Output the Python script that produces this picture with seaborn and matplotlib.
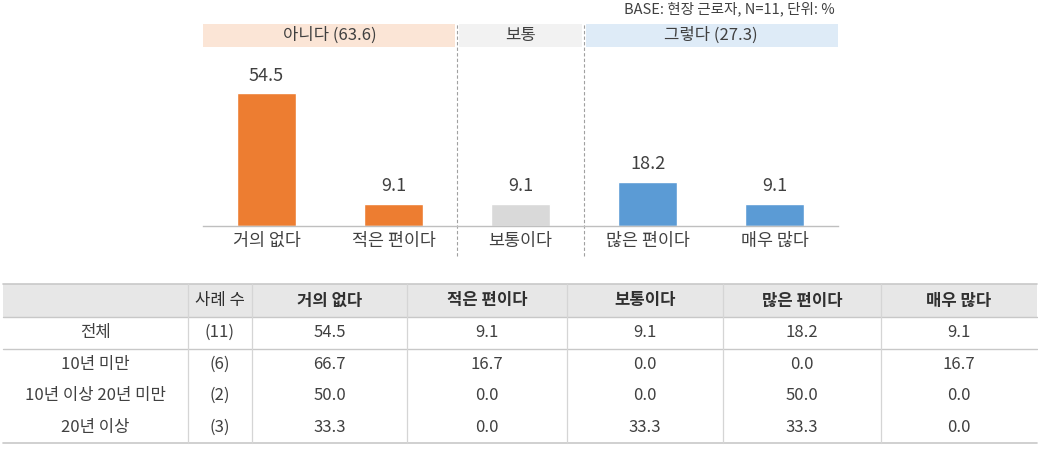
import matplotlib
matplotlib.use("Agg")
import matplotlib.pyplot as plt
import seaborn as sns
import pandas as pd
from matplotlib.patches import Rectangle

# ---------------- data ----------------
categories = ["거의 없다", "적은 편이다", "보통이다", "많은 편이다", "매우 많다"]
values = [54.5, 9.1, 9.1, 18.2, 9.1]
bar_colors = ["#ED7D31", "#ED7D31", "#D9D9D9", "#5B9BD5", "#5B9BD5"]
group_labels = ["아니다 (63.6)", "보통", "그렇다 (27.3)"]
group_spans = [(0, 1), (2, 2), (3, 4)]
group_colors = ["#FBE5D6", "#F2F2F2", "#DEEBF7"]
base_note = "BASE: 현장 근로자, N=11, 단위: %"

table_header = ["", "사례 수"] + categories
row_labels = ["전체", "10년 미만", "10년 이상 20년 미만", "20년 이상"]
row_counts = ["(11)", "(6)", "(2)", "(3)"]
table_values = [
    [54.5, 9.1, 9.1, 18.2, 9.1],
    [66.7, 16.7, 0.0, 0.0, 16.7],
    [50.0, 0.0, 0.0, 50.0, 0.0],
    [33.3, 0.0, 33.3, 33.3, 0.0],
]

# ---------------- style ----------------
sns.set_theme(style="white")
plt.rcParams['font.family'] = ['Noto Sans CJK KR', 'DejaVu Sans']
TXT = "#404040"

W, H = 1038, 450
fig = plt.figure(figsize=(W / 100, H / 100), dpi=100)

# ---------------- chart ----------------
base_y, top_y, left_x, right_x = 226, 24, 203, 838
ax = fig.add_axes([left_x / W, (H - base_y) / H, (right_x - left_x) / W, (base_y - top_y) / H])
df = pd.DataFrame({"cat": categories, "val": values})
sns.barplot(data=df, x="cat", y="val", hue="cat", palette=bar_colors, legend=False,
            width=0.46, ax=ax, saturation=1)
ax.set_xlim(-0.5, len(categories) - 0.5)
ax.set_ylim(0, (base_y - top_y) / 2.44)
ax.set_xlabel("")
ax.set_ylabel("")
ax.set_yticks([])
for s in ["top", "left", "right"]:
    ax.spines[s].set_visible(False)
ax.spines["bottom"].set_color("#BFBFBF")
ax.spines["bottom"].set_linewidth(1.0)
ax.tick_params(axis="x", which="major", length=0, pad=4, labelsize=12.5, labelcolor=TXT)
ax.set_xticks(range(len(categories)))
ax.set_xticklabels(categories)
ax.set_xticks([i + 0.5 for i in range(len(categories) - 1)], minor=True)
ax.tick_params(axis="x", which="minor", length=4, color="#BFBFBF", width=0.8, direction="out")
for cont in ax.containers:
    ax.bar_label(cont, fmt="%.1f", padding=6, fontsize=13, color=TXT)

# group header band
band_bottom = (base_y - 47) / (base_y - top_y)
gap = 0.016
for (s, e), lab, col in zip(group_spans, group_labels, group_colors):
    x0 = s - 0.5 + (gap if s > 0 else 0)
    x1 = e + 0.5 - (gap if e < len(categories) - 1 else 0)
    ax.axvspan(x0, x1, ymin=band_bottom, ymax=1.0, color=col, lw=0, clip_on=False)
    ax.text((s + e) / 2, (band_bottom + 1) / 2, lab, transform=ax.get_xaxis_transform(),
            ha="center", va="center", fontsize=12, color=TXT)

# dashed separators
for i in range(len(group_spans) - 1):
    xb = group_spans[i][1] + 0.5
    ax.plot([xb, xb], [-0.15, 1.0], transform=ax.get_xaxis_transform(), clip_on=False,
            color="#A0A0A0", lw=0.8, ls=(0, (3, 2)))

fig.text(835 / W, 1 - 9 / H, base_note, ha="right", va="center", fontsize=10.5, color=TXT)

# ---------------- table ----------------
tax = fig.add_axes([0, 0, 1, 1])
tax.set_xlim(0, W)
tax.set_ylim(H, 0)
tax.axis("off")
col_edges = [3, 188, 252, 407, 567, 723, 881, 1037]
header_top, header_bot = 284, 317
row_h = 31.5
n_rows = len(row_labels)
table_bottom = header_bot + row_h * n_rows
FS = 12

tax.add_patch(Rectangle((col_edges[0], header_top), col_edges[-1] - col_edges[0],
                        header_bot - header_top, facecolor="#E7E7E7", edgecolor="none"))
for yl, c, lw in [(header_top, "#C8C8C8", 1.2), (header_bot, "#C8C8C8", 1.0),
                  (header_bot + row_h, "#C8C8C8", 1.0), (table_bottom, "#C8C8C8", 1.2)]:
    tax.plot([col_edges[0], col_edges[-1]], [yl, yl], color=c, lw=lw)
for xe in col_edges[1:-1]:
    tax.plot([xe, xe], [header_top, table_bottom], color="#D5D5D5", lw=0.9)

centers = [(col_edges[i] + col_edges[i + 1]) / 2 for i in range(len(col_edges) - 1)]
for j, h in enumerate(table_header):
    if h:
        tax.text(centers[j], (header_top + header_bot) / 2, h, ha="center", va="center",
                 fontsize=FS, color="#303030", fontweight="bold" if j >= 2 else "normal")
for i in range(n_rows):
    yc = header_bot + row_h * (i + 0.5)
    tax.text(centers[0], yc, row_labels[i], ha="center", va="center", fontsize=FS, color=TXT)
    tax.text(centers[1], yc, row_counts[i], ha="center", va="center", fontsize=FS, color=TXT)
    for j, v in enumerate(table_values[i]):
        tax.text(centers[j + 2], yc, f"{v:.1f}", ha="center", va="center", fontsize=FS, color=TXT)

fig.savefig("out.png", dpi=100)
